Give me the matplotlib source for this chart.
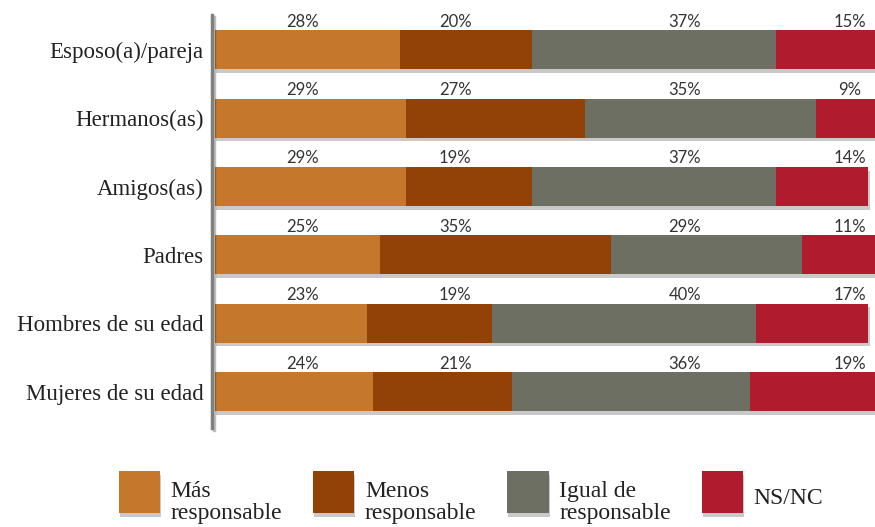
import numpy as np
import matplotlib
matplotlib.use("Agg")
import matplotlib.pyplot as plt
import matplotlib.patheffects as pe

categories = ["Esposo(a)/pareja", "Hermanos(as)", "Amigos(as)", "Padres",
              "Hombres de su edad", "Mujeres de su edad"]
series_names = ["Más\nresponsable", "Menos\nresponsable", "Igual de\nresponsable", "NS/NC"]
mas = [28, 29, 29, 25, 23, 24]
menos = [20, 27, 19, 35, 19, 21]
igual = [37, 35, 37, 29, 40, 36]
nsnc = [15, 9, 14, 11, 17, 19]

colors = ["#C5772B", "#924206", "#6C6F61", "#B01C2D"]
# labels sit in fixed columns above the bars
label_cols = [13.2, 36.4, 71.2, 96.2]

serif = "Liberation Serif"

fig = plt.figure(figsize=(8.75, 5.27), dpi=100)
ax = fig.add_axes([0.2457, 0.188, 0.7543, 0.7835])

shadow = [pe.SimplePatchShadow(offset=(0.8, -2.5), shadow_rgbFace="#666666", alpha=0.35), pe.Normal()]

y = np.arange(len(categories))
left = np.zeros(len(categories))
series = [mas, menos, igual, nsnc]
for vals, col, name in zip(series, colors, series_names):
    bars = ax.barh(y, vals, left=left, height=0.57, color=col, label=name)
    for b in bars:
        b.set_path_effects(shadow)
    left = left + np.array(vals)

for i in range(len(categories)):
    for vals, xc in zip(series, label_cols):
        ax.text(xc, i - 0.295, "%d%%" % vals[i], ha="center", va="bottom",
                fontsize=12, color="#333333", family="Lato")

# spine first: set_position resets the ticks
for s in ["top", "right", "bottom"]:
    ax.spines[s].set_visible(False)
ax.spines["left"].set_position(("outward", 2))
ax.spines["left"].set_color("#7f7f7f")
ax.spines["left"].set_linewidth(2.5)
ax.spines["left"].set_path_effects([pe.SimpleLineShadow(offset=(1.5, -1.5), alpha=0.25), pe.Normal()])

ax.set_xlim(0, 100)
ax.set_ylim(5.53, -0.51)
ax.set_xticks([])
ax.set_yticks(y)
ax.set_yticklabels(categories)
ax.tick_params(axis="y", length=0, pad=6, labelsize=16.5, labelcolor="#222222",
               labelfontfamily=serif)

leg = ax.legend(loc="upper left", bbox_to_anchor=(-0.178, -0.05), ncol=4, frameon=False,
                handlelength=1.75, handleheight=2.35, handletextpad=0.45, columnspacing=1.3,
                labelspacing=0.2, prop={"family": serif, "size": 17})
for p in leg.get_patches():
    p.set_path_effects(shadow)
for t in leg.get_texts():
    t.set_color("#222222")
    t.set_linespacing(1.1)
    # push the labels a bit below the square centre, as in the original
    if "\n" in t.get_text():
        t.set_y(-11)
    else:
        t.set_y(-4)

fig.savefig("out.png", dpi=100)
